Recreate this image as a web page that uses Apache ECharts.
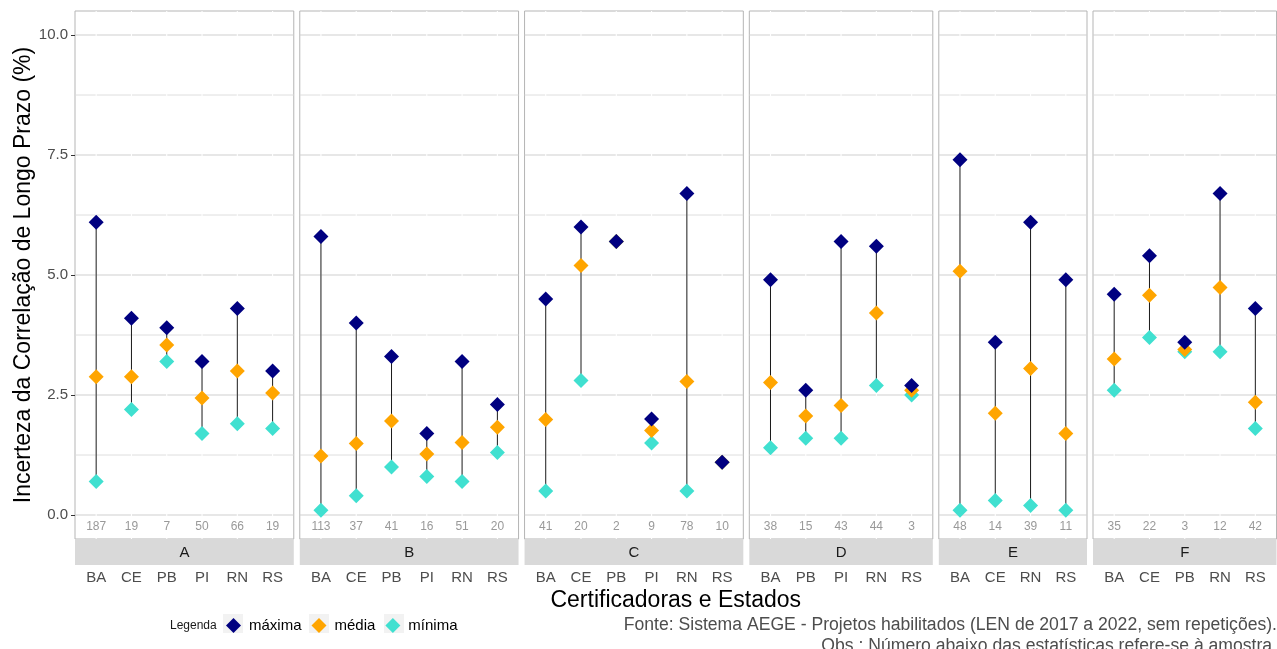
<!DOCTYPE html>
<html>
<head>
<meta charset="utf-8">
<script src="https://cdn.jsdelivr.net/npm/echarts@6/dist/echarts.min.js"></script>
<style>
  html, body { margin: 0; padding: 0; background: #ffffff; }
  #chart { width: 1277px; height: 649px; }
</style>
</head>
<body>
<div id="chart"></div>
<script>
// Certificadoras (facetas) e estados de cada uma
const certificadoras = ['A', 'B', 'C', 'D', 'E', 'F'];
const estados = [
  ['BA', 'CE', 'PB', 'PI', 'RN', 'RS'],
  ['BA', 'CE', 'PB', 'PI', 'RN', 'RS'],
  ['BA', 'CE', 'PB', 'PI', 'RN', 'RS'],
  ['BA', 'PB', 'PI', 'RN', 'RS'],
  ['BA', 'CE', 'RN', 'RS'],
  ['BA', 'CE', 'PB', 'RN', 'RS']
];
// Incerteza (%) por estado: máxima, média e mínima
const maxima = [
  [6.1, 4.1, 3.9, 3.2, 4.3, 3.0],
  [5.8, 4.0, 3.3, 1.7, 3.2, 2.3],
  [4.5, 6.0, 5.7, 2.0, 6.7, 1.1],
  [4.9, 2.6, 5.7, 5.6, 2.7],
  [7.4, 3.6, 6.1, 4.9],
  [4.6, 5.4, 3.6, 6.7, 4.3]
];
const media = [
  [2.88, 2.88, 3.54, 2.44, 3.0, 2.54],
  [1.23, 1.49, 1.96, 1.27, 1.51, 1.83],
  [1.99, 5.2, 5.7, 1.76, 2.78, 1.1],
  [2.76, 2.06, 2.28, 4.21, 2.6],
  [5.08, 2.12, 3.05, 1.7],
  [3.25, 4.58, 3.45, 4.74, 2.35]
];
const minima = [
  [0.7, 2.2, 3.2, 1.7, 1.9, 1.8],
  [0.1, 0.4, 1.0, 0.8, 0.7, 1.3],
  [0.5, 2.8, 5.7, 1.5, 0.5, 1.1],
  [1.4, 1.6, 1.6, 2.7, 2.5],
  [0.1, 0.3, 0.2, 0.1],
  [2.6, 3.7, 3.4, 3.4, 1.8]
];
// Tamanho da amostra (número de projetos)
const amostra = [
  [187, 19, 7, 50, 66, 19],
  [113, 37, 41, 16, 51, 20],
  [41, 20, 2, 9, 78, 10],
  [38, 15, 43, 44, 3],
  [48, 14, 39, 11],
  [35, 22, 3, 12, 42]
];
const yTicks = [0, 2.5, 5, 7.5, 10];
const yMinor = [1.25, 3.75, 6.25, 8.75];
const nLabelY = -0.25;

const FONT = '"Liberation Sans", Arial, sans-serif';
const COLORS = { max: '#000080', mean: '#FFA500', min: '#40E0D0' };

// Layout of the facet panels (widths proportional to number of states)
const PLOT_LEFT = 75, PLOT_RIGHT = 1276.5, PLOT_TOP = 11, PLOT_BOTTOM = 539, GAP = 6;
const STRIP_H = 26;
const units = estados.map(s => s.length + 0.2);
const totalUnits = units.reduce((a, b) => a + b, 0);
const unitPx = (PLOT_RIGHT - PLOT_LEFT - GAP * (certificadoras.length - 1)) / totalUnits;

const grids = [], xAxes = [], yAxes = [], series = [], graphics = [];
let xCursor = PLOT_LEFT;

certificadoras.forEach((cert, i) => {
  const w = units[i] * unitPx;
  const nStates = estados[i].length;
  const idx = estados[i].map((_, k) => k);

  grids.push({
    left: xCursor, top: PLOT_TOP, width: w, height: PLOT_BOTTOM - PLOT_TOP,
    show: true, borderColor: '#b5b5b5', borderWidth: 1, backgroundColor: '#ffffff'
  });

  xAxes.push({
    type: 'value', gridIndex: i, min: -0.6, max: nStates - 0.4,
    axisLine: { show: false, onZero: false }, axisTick: { show: false }, splitLine: { show: false },
    axisLabel: {
      customValues: idx,
      formatter: v => estados[i][Math.round(v)],
      margin: 31, fontSize: 15, color: '#4d4d4d', fontFamily: FONT
    }
  });

  yAxes.push({
    type: 'value', gridIndex: i, min: -0.5, max: 10.5, position: 'left',
    axisLine: { show: false, onZero: false }, splitLine: { show: false },
    axisTick: { show: i === 0, inside: false, length: 4, customValues: yTicks, lineStyle: { color: '#333333' } },
    axisLabel: {
      show: i === 0, customValues: yTicks, formatter: v => v.toFixed(1),
      margin: 7, fontSize: 15, color: '#4d4d4d', fontFamily: FONT
    },
    name: i === 0 ? 'Incerteza da Correlação de Longo Prazo (%)' : '',
    nameLocation: 'middle', nameGap: 40,
    nameTextStyle: { fontSize: 23, color: '#000000', fontFamily: FONT }
  });

  // horizontal grid lines (major and minor)
  const gridData = yTicks.map(v => [0, v, 1]).concat(yMinor.map(v => [0, v, 0]));
  series.push({
    type: 'custom', xAxisIndex: i, yAxisIndex: i, silent: true, clip: false, z: 1,
    data: gridData,
    renderItem: (params, api) => {
      const cs = params.coordSys;
      const y = api.coord([0, api.value(1)])[1];
      return {
        type: 'line',
        shape: { x1: cs.x, y1: y, x2: cs.x + cs.width, y2: y },
        style: { stroke: api.value(2) ? '#cfcfcf' : '#dadada', lineWidth: api.value(2) ? 1.1 : 0.9 }
      };
    }
  });
  // white vertical grid lines at each state
  series.push({
    type: 'custom', xAxisIndex: i, yAxisIndex: i, silent: true, clip: false, z: 1,
    data: idx.map(k => [k]),
    renderItem: (params, api) => {
      const cs = params.coordSys;
      const x = api.coord([api.value(0), 0])[0];
      return {
        type: 'line',
        shape: { x1: x, y1: cs.y, x2: x, y2: cs.y + cs.height },
        style: { stroke: '#ffffff', lineWidth: 1.1 }
      };
    }
  });
  // range segments from mínima to máxima
  series.push({
    type: 'custom', xAxisIndex: i, yAxisIndex: i, silent: true, z: 3,
    data: idx.map(k => [k, minima[i][k], maxima[i][k]]),
    renderItem: (params, api) => {
      const p1 = api.coord([api.value(0), api.value(1)]);
      const p2 = api.coord([api.value(0), api.value(2)]);
      return {
        type: 'line',
        shape: { x1: p1[0], y1: p1[1], x2: p2[0], y2: p2[1] },
        style: { stroke: '#1a1a1a', lineWidth: 1 }
      };
    }
  });

  const pointSeries = (name, values, color, z) => ({
    name, type: 'scatter', xAxisIndex: i, yAxisIndex: i, z,
    symbol: 'diamond', symbolSize: 15,
    itemStyle: { color, opacity: 1 },
    emphasis: { disabled: true },
    data: idx.map(k => [k, values[i][k]])
  });
  series.push(pointSeries('mínima', minima, COLORS.min, 4));
  series.push(pointSeries('média', media, COLORS.mean, 5));
  series.push(pointSeries('máxima', maxima, COLORS.max, 6));

  // sample size labels
  series.push({
    type: 'scatter', xAxisIndex: i, yAxisIndex: i, z: 7, silent: true,
    symbolSize: 0,
    data: idx.map(k => [k, nLabelY, amostra[i][k]]),
    label: {
      show: true, position: 'inside', formatter: p => String(p.value[2]),
      fontSize: 12, color: '#808080', fontFamily: FONT
    }
  });

  // facet strip
  graphics.push({
    type: 'rect', left: xCursor, top: PLOT_BOTTOM, silent: true,
    shape: { width: w, height: STRIP_H },
    style: { fill: '#d9d9d9' }
  });
  graphics.push({
    type: 'text', x: xCursor + w / 2, y: PLOT_BOTTOM + STRIP_H / 2 + 1, silent: true,
    style: { text: cert, fontSize: 15, fill: '#1a1a1a', fontFamily: FONT, align: 'center', verticalAlign: 'middle' }
  });

  xCursor += w + GAP;
});

// legend key backgrounds
[233, 319, 394].forEach(cx => {
  graphics.push({
    type: 'rect', x: cx - 10, y: 614, silent: true, z: -1,
    shape: { width: 20, height: 19 },
    style: { fill: '#f2f2f2' }
  });
});

// axis title, legend heading and caption
graphics.push({
  type: 'text', x: (PLOT_LEFT + PLOT_RIGHT) / 2, y: 601, silent: true,
  style: { text: 'Certificadoras e Estados', fontSize: 23, fill: '#000000', fontFamily: FONT, align: 'center', verticalAlign: 'middle' }
});
graphics.push({
  type: 'text', x: 170, y: 626, silent: true,
  style: { text: 'Legenda', fontSize: 12, fill: '#1a1a1a', fontFamily: FONT, align: 'left', verticalAlign: 'middle' }
});
graphics.push({
  type: 'text', x: 1277, y: 625, silent: true,
  style: { text: 'Fonte: Sistema AEGE - Projetos habilitados (LEN de 2017 a 2022, sem repetições).', fontSize: 17.6, fill: '#4d4d4d', fontFamily: FONT, align: 'right', verticalAlign: 'middle' }
});
graphics.push({
  type: 'text', x: 1277, y: 646, silent: true,
  style: { text: 'Obs.: Número abaixo das estatísticas refere-se à amostra.', fontSize: 17.6, fill: '#4d4d4d', fontFamily: FONT, align: 'right', verticalAlign: 'middle' }
});

const chart = echarts.init(document.getElementById('chart'), null, { renderer: 'canvas' });
chart.setOption({
  animation: false,
  backgroundColor: '#ffffff',
  grid: grids,
  xAxis: xAxes,
  yAxis: yAxes,
  legend: {
    data: [
      { name: 'máxima', itemStyle: { color: COLORS.max } },
      { name: 'média', itemStyle: { color: COLORS.mean } },
      { name: 'mínima', itemStyle: { color: COLORS.min } }
    ],
    selectedMode: false, z: 10,
    left: 221, top: 613,
    icon: 'diamond', itemWidth: 15, itemHeight: 15, itemGap: 10,
    textStyle: { fontSize: 15, color: '#000000', fontFamily: FONT, padding: [0, 0, 0, 3] }
  },
  graphic: graphics,
  series: series
});
</script>
</body>
</html>
